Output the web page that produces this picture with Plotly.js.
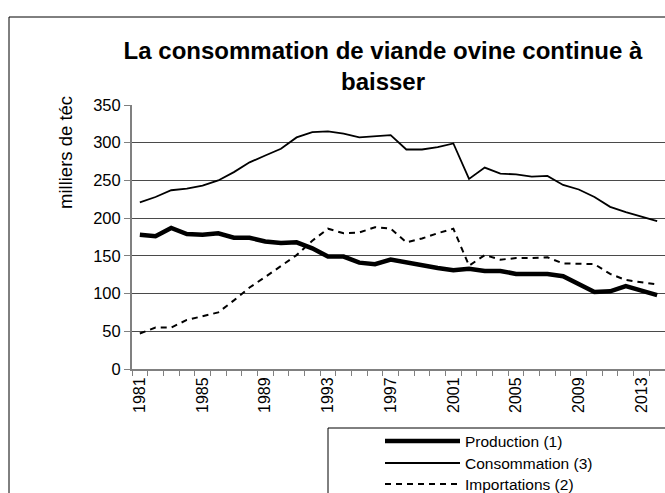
<!DOCTYPE html>
<html>
<head>
<meta charset="utf-8">
<script src="https://cdn.plot.ly/plotly-3.0.1.min.js"></script>
<style>
html,body{margin:0;padding:0;background:#fff;}
#chart{width:665px;height:493px;}
</style>
</head>
<body>
<div id="chart"></div>
<script>
const years = [1981,1982,1983,1984,1985,1986,1987,1988,1989,1990,
               1991,1992,1993,1994,1995,1996,1997,1998,1999,2000,
               2001,2002,2003,2004,2005,2006,2007,2008,2009,2010,
               2011,2012,2013,2014];
const production = [178,176,187,179,178,180,174,174,169,167,
                    168,160,149,149,141,139,145,141,137,134,
                    131,133,130,130,126,126,126,123,113,102,
                    103,110,104,98];
const consommation = [221,228,237,239,243,250,261,274,283,292,
                      307,314,315,312,307,309,310,291,291,294,
                      299,252,267,259,258,255,256,244,238,228,
                      215,208,202,196];
const importations = [47,55,55,65,70,75,91,108,122,137,
                      151,170,186,180,181,188,186,168,173,180,
                      186,137,151,145,147,147,148,140,140,139,
                      126,118,115,112];
const labelYears = [1981,1985,1989,1993,1997,2001,2005,2009,2013];
const seriesNames = ['Production (1)','Consommation (3)','Importations (2)'];
const titleText = 'La consommation de viande ovine continue à<br>baisser';
const yTitle = 'milliers de téc';

const FONT = 'Liberation Sans, Arial, sans-serif';
const W = 665, H = 493;
const M = {l:132, r:0, t:105, b:124};
const pw = W - M.l - M.r, ph = H - M.t - M.b;
const px = x => (x - M.l) / pw;          // pixel -> paper x
const py = y => (H - M.b - y) / ph;      // pixel -> paper y

const styles = [
  {width:4.5, dash:'solid'},
  {width:1.8, dash:'solid'},
  {width:2, dash:'6px,5px'}
];
const series = [production, consommation, importations];

const traces = series.map((s,i)=>({
  type:'scatter', mode:'lines', x:years, y:s, name:seriesNames[i],
  line:{color:'#000', width:styles[i].width, dash:styles[i].dash},
  showlegend:false, hoverinfo:'skip'
}));

// manual legend (box, sample lines, labels)
const shapes = [
  {type:'rect', xref:'paper', yref:'paper', x0:px(9), x1:1.3, y0:-1, y1:py(17),
   line:{color:'#000', width:1}, fillcolor:'rgba(0,0,0,0)', layer:'below'},
  {type:'rect', xref:'paper', yref:'paper', x0:px(328), x1:1.3, y0:-1, y1:py(428),
   line:{color:'#000', width:1}, fillcolor:'#fff'}
];
const rowY = [441, 463, 484];
const annotations = [
  {xref:'paper', yref:'paper', x:px(65), y:py(153), text:yTitle, textangle:-90,
   showarrow:false, font:{family:FONT, size:18.5, color:'#000'}, xanchor:'center', yanchor:'middle'}
];
seriesNames.forEach((n,i)=>{
  shapes.push({type:'line', xref:'paper', yref:'paper', x0:px(385), x1:px(460),
    y0:py(rowY[i]), y1:py(rowY[i]),
    line:{color:'#000', width:styles[i].width, dash:styles[i].dash}});
  annotations.push({xref:'paper', yref:'paper', x:px(463), y:py(rowY[i]), text:n,
    showarrow:false, xanchor:'left', yanchor:'middle',
    font:{family:FONT, size:15.5, color:'#000'}});
});

const layout = {
  width:W, height:H,
  margin:{l:M.l, r:M.r, t:M.t, b:M.b, pad:0, autoexpand:false},
  paper_bgcolor:'#fff', plot_bgcolor:'#fff',
  font:{family:FONT, color:'#000'},
  title:{text:titleText, font:{family:FONT, size:24, weight:700, color:'#000'},
         x:383/W, xanchor:'center', xref:'container',
         y:1-59/H, yanchor:'top', yref:'container'},
  xaxis:{range:[1980.5, 2014.5], tickmode:'array', tickvals:labelYears,
         ticktext:labelYears.map(String), tickangle:-90, ticks:'',
         tickfont:{family:FONT, size:16, color:'#000'},
         showgrid:false, zeroline:false, showline:true, linecolor:'#808080', linewidth:2,
         minor:{tickmode:'linear', tick0:1980.5, dtick:1, ticks:'outside', ticklen:5,
                tickcolor:'#808080', tickwidth:1, showgrid:false},
         fixedrange:true},
  yaxis:{range:[0,350], tickmode:'linear', tick0:0, dtick:50, ticks:'outside', ticklen:6,
         tickcolor:'#808080', tickfont:{family:FONT, size:16.5, color:'#000'},
         showgrid:true, gridcolor:'#4a4a4a', gridwidth:1, zeroline:false,
         showline:true, linecolor:'#808080', linewidth:2, fixedrange:true},
  shapes:shapes,
  annotations:annotations,
  showlegend:false
};

Plotly.newPlot('chart', traces, layout, {staticPlot:true});
</script>
</body>
</html>
